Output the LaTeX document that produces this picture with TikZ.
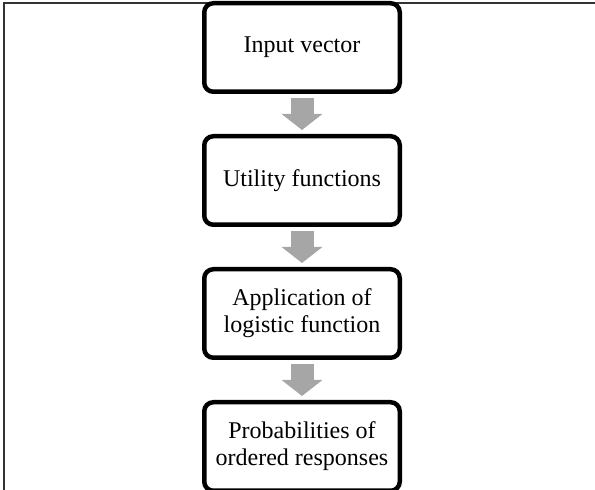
\documentclass[tikz,border=0pt]{standalone}
\usepackage{fontspec}
\setmainfont{Liberation Serif}
\usetikzlibrary{positioning,arrows.meta}

\definecolor{arrowgray}{RGB}{166,166,166}

\tikzset{
  stage/.style={draw=black, fill=white, line width=4.5pt, rounded corners=9pt,
    minimum width=195.5pt, minimum height=88.5pt, inner sep=0pt,
    align=center, font=\fontsize{24}{27}\selectfont},
  flowarrow/.style={draw=arrowgray, line width=23pt,
    -{Triangle[length=16pt,width=40pt]}},
  frameline/.style={draw=black!80, line width=1.2pt}
}

\begin{document}
\begin{tikzpicture}[x=1pt,y=1pt]

\def\xc{302}; % column centre
\def\yt{442.5}; % first stage
\def\gap{4pt}; % space around arrows

\useasboundingbox (0,0) rectangle (595,490);

\draw[frameline] (4,0) -- (4,487) -- (595,487); % outer frame

\node[stage] (input) at (\xc, \yt) {Input vector};
\node[stage, below=40pt of input] (utility) {Utility functions};
\node[stage, below=40pt of utility] (logistic) {Application of\\logistic function};
\node[stage, below=40pt of logistic] (probs) {Probabilities of\\ordered responses};

\draw[flowarrow] ([yshift=-\gap]input.south) -- ([yshift=\gap]utility.north);
\draw[flowarrow] ([yshift=-\gap]utility.south) -- ([yshift=\gap]logistic.north);
\draw[flowarrow] ([yshift=-\gap]logistic.south) -- ([yshift=\gap]probs.north);

\end{tikzpicture}
\end{document}
